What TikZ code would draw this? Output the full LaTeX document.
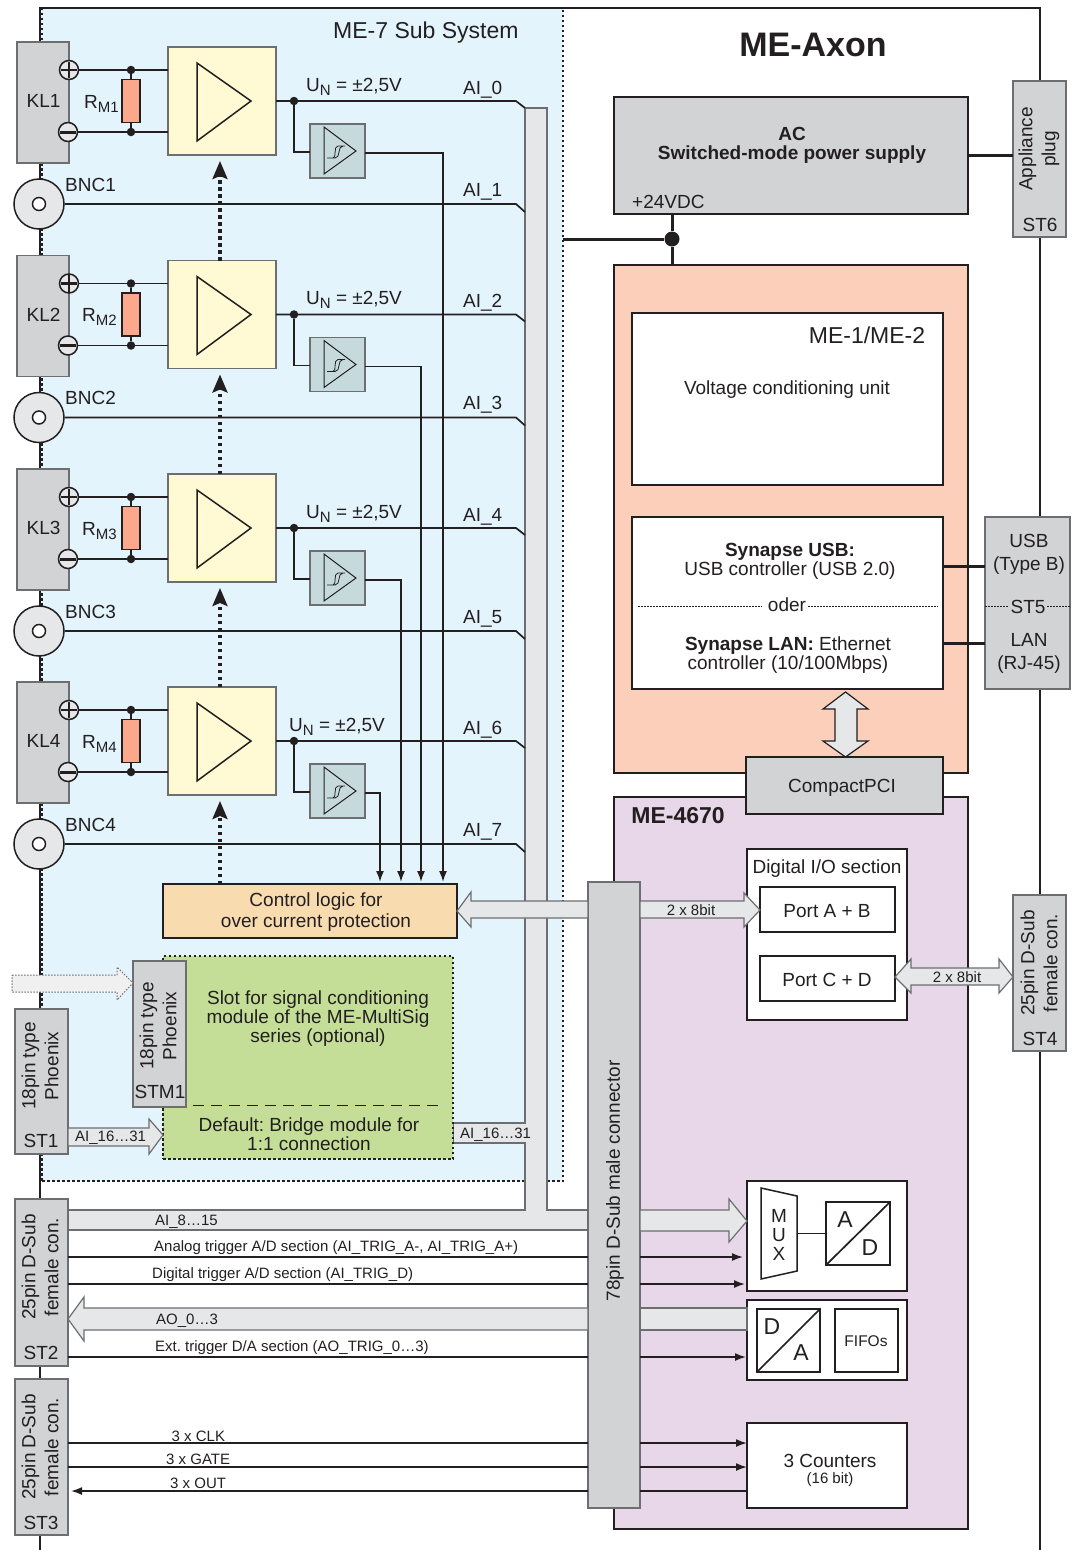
\documentclass[tikz,border=0pt]{standalone}
\usepackage{fontspec}
\setmainfont{Liberation Sans}
\usetikzlibrary{arrows.meta}
\definecolor{ink}{HTML}{231F20}
\definecolor{edge}{HTML}{6D6E71}
\definecolor{subsys}{HTML}{E4F4FD}
\definecolor{ampfill}{HTML}{FFFAD4}
\definecolor{cmpfill}{HTML}{C6DADD}
\definecolor{resfill}{HTML}{FBA88C}
\definecolor{portgray}{HTML}{D1D3D4}
\definecolor{busgray}{HTML}{E6E7E8}
\definecolor{logicfill}{HTML}{F8DCB0}
\definecolor{slotfill}{HTML}{C4DE98}
\definecolor{cardorange}{HTML}{FCCFBB}
\definecolor{cardpurple}{HTML}{E8D6E9}
\newcommand{\lowtxt}[1]{\raisebox{-4pt}{\fontsize{15}{15}\selectfont #1}}
\tikzset{
  size/.style 2 args={minimum width=#1, minimum height=#2, anchor=north west, inner sep=0pt, outer sep=0pt},
  txt/.style={font=\frenchspacing\fontsize{19}{19}\selectfont, text=ink, inner sep=0pt, align=center},
  turned/.style={txt, rotate=90, font=\fontsize{19}{23}\selectfont},
  big/.style={font=\fontsize{23}{23}\selectfont, text=ink, inner sep=0pt},
  tiny/.style={font=\frenchspacing\fontsize{15}{15}\selectfont, text=ink, inner sep=0pt, anchor=base west},
  lbl/.style={txt, anchor=base west},
  wire/.style={draw=ink, line width=1.7pt},
  power/.style={draw=ink, line width=3pt},
  sig/.style={wire, -{Latex[length=11pt,width=8pt]}},
  port/.style={draw=edge, line width=1.2pt, fill=portgray, txt},
  plain/.style={draw=ink, line width=1.2pt, fill=white, txt},
  strong/.style={draw=ink, line width=2pt, fill=white, txt},
  band/.style={draw=edge, line width=1.2pt, fill=busgray},
  border/.style={draw=ink, line width=1.2pt, dash pattern=on 2.5pt off 2.5pt},
  junction/.style={circle, fill=ink, minimum size=8.5pt, inner sep=0pt},
  terminal/.style={circle, draw=ink, line width=1.5pt, fill=busgray, minimum size=19pt, inner sep=0pt},
  ctrl/.style={draw=ink, line width=3.2pt, dash pattern=on 3.5pt off 3.5pt, shorten >=6pt, -{Stealth[length=18pt,width=15pt,inset=3pt]}}
}
\begin{document}
\begin{tikzpicture}[x=1pt, y=-1pt]
  \useasboundingbox (0,0) rectangle (1077,1550);
  \fill[subsys] (40,8) rectangle (563,1181);
  \draw[wire] (40,1550) -- (40,8) -- (1040,8) -- (1040,1550);
  \draw[border] (42,1181) -- (563,1181) -- (563,8) -- (42,8) -- cycle;
  \node[big, anchor=base west] (subsysname) at (333,38) {ME-7 Sub System};
  \node[font=\bfseries\fontsize{34}{34}\selectfont, text=ink, inner sep=0pt] (title) at (813,45) {ME-Axon};

  \node[draw=ink, line width=1.5pt, fill=cardpurple, size={354}{732}] (me4card) at (614,797) {};
  \node[port, size={52}{626}] (pins) at (588,882) {};
  \node[txt, rotate=90] (pinsname) at (615,1181) {78pin D-Sub male connector};

  \node[draw=ink, line width=2pt, fill=logicfill, size={294}{54}] (logic) at (163,884) {};
  \node[txt] (logicname) at (316,912) {Control logic for\\[2pt]over current protection};

  \draw[band] (525,108) -- (547,108) -- (547,1210) -- (pins.west |- 0,1210) -- (pins.west |- 0,1230)
    -- (68,1230) -- (68,1210) -- (525,1210) -- (525,1143) -- (453,1143) -- (453,1123) -- (525,1123) -- cycle;
  \draw[band] (pins.west |- 0,901) -- (471,901) -- (471,892) -- (logic.east) -- (471,927) -- (471,918) -- (pins.west |- 0,918) -- cycle;
  \node[tiny] (ailow) at (155,1225) {AI\_8…15};
  \node[tiny] (aibridge) at (460,1138) {AI\_16…31};

  \foreach \n/\dy/\ux/\rx/\out/\aia/\aib in {1/0/306/84/443/0/1, 2/213.5/306/82/421/2/3, 3/427/306/82/401/4/5, 4/640/289/82/380/6/7} {
    \begin{scope}[yshift=-\dy pt]
      \coordinate (ai\aia) at (525,108);
      \coordinate (ai\aib) at (525,212);
      \node[draw=edge, line width=1.2pt, fill=ampfill, size={108}{108}] (amp\n) at (168,47) {};
      \draw[draw=ink, line width=1.5pt] (197,63) -- (251,101) -- (197,141) -- cycle;
      \node[draw=edge, line width=1.2pt, fill=cmpfill, size={55}{54}] (cmp\n) at (310,124) {};
      \draw[draw=ink, line width=1pt] (324,127) -- (356,151) -- (324,174) -- cycle;
      \draw[draw=ink, line width=0.8pt] (327,158) -- (333,158) .. controls (337,158) and (333,146) .. (338,146) -- (345,146)
        (330,158) -- (335,158) .. controls (341,158) and (337,146) .. (343,146);
      \node[circle, draw=ink, line width=1.5pt, fill=busgray, minimum size=50pt, inner sep=0pt] (bnc\n) at (39,204) {};
      \node[circle, draw=ink, line width=1.5pt, fill=white, minimum size=13pt, inner sep=0pt] (bnchole\n) at (39,204) {};
      \node[lbl] (bncname\n) at (65,191) {BNC\n};
      \draw[wire] (amp\n.east) -- (516,101) -- (ai\aia);
      \draw[wire] (bnc\n.east) -- (516,204) -- (ai\aib);
      \node[junction] (split\n) at (294,101) {};
      \draw[wire] (split\n) |- (cmp\n.west |- 0,152);
      \draw[sig, shorten >=2pt] (cmp\n.east |- 0,153) -| (\out,0 |- logic.north);
      \node[port, size={52}{121}] (kl\n) at (17,42) {};
      \node[txt] (klname\n) at (43.5,101) {KL\n};
      \node[terminal] (plus\n) at (69,70) {};
      \node[terminal] (minus\n) at (68,132) {};
      \draw[draw=ink, line width=2.6pt, shorten >=2pt, shorten <=2pt] (plus\n.west) -- (plus\n.east);
      \draw[draw=ink, line width=2.6pt, shorten >=2pt, shorten <=2pt] (plus\n.north) -- (plus\n.south);
      \draw[draw=ink, line width=3pt, shorten >=2pt, shorten <=2pt] (minus\n.west) -- (minus\n.east);
      \node[junction] (top\n) at (131,70) {};
      \node[junction] (bot\n) at (131,132) {};
      \draw[wire] (plus\n.east) -- (top\n) -- (amp\n.west |- top\n);
      \draw[wire] (minus\n.east) -- (bot\n) -- (amp\n.west |- bot\n);
      \node[draw=ink, line width=1.5pt, fill=resfill, minimum width=18pt, minimum height=43pt, inner sep=0pt] (res\n) at (131,101) {};
      \draw[wire] (top\n) -- (res\n) (res\n) -- (bot\n);
      \node[lbl] (resname\n) at (\rx,108) {R\lowtxt{M\n}};
      \node[lbl] (un\n) at (\ux,91) {U\lowtxt{N} = ±2,5V};
      \node[lbl] (ainame\aia) at (463,94) {AI\_\aia};
      \node[lbl] (ainame\aib) at (463,196) {AI\_\aib};
    \end{scope}
  }
  \foreach \dn/\up in {2/1, 3/2, 4/3}
    \draw[ctrl] (220,0 |- amp\dn.north) -- (220,0 |- amp\up.south);
  \draw[ctrl] (220,0 |- logic.north) -- (220,0 |- amp4.south);

  \node[draw=ink, line width=1.2pt, dash pattern=on 2.5pt off 2.5pt, fill=slotfill, size={290}{203}] (slot) at (163,956) {};
  \node[txt] (slottext) at (318,1019) {Slot for signal conditioning\\module of the ME-MultiSig\\series (optional)};
  \node[txt] (slotdefault) at (309,1134) {Default: Bridge module for\\1:1 connection};
  \draw[draw=ink, line width=1pt, dash pattern=on 11pt off 7pt] (193,1105) -- (440,1105);
  \node[port, size={53}{146}] (stm) at (133,961) {};
  \node[turned] (stmtype) at (158,1026) {18pin type\\Phoenix};
  \node[txt] (stmname) at (160,1092) {STM1};
  \draw[draw=edge, line width=1pt, fill=black!6, dash pattern=on 1.5pt off 1.5pt]
    (12,975) -- (117,975) -- (117,967) -- (stm.west |- 0,983) -- (117,1000) -- (117,992) -- (12,992) -- cycle;

  \node[port, size={53}{145}] (st1) at (15,1009) {};
  \node[turned] (st1type) at (40,1066) {18pin type\\Phoenix};
  \node[txt] (st1name) at (41,1141) {ST1};
  \draw[band] (st1.east |- 0,1128) -- (149,1128) -- (149,1119) -- (slot.west |- 0,1135) -- (149,1154) -- (149,1146) -- (st1.east |- 0,1146) -- cycle;
  \node[tiny] (aimid) at (75,1141) {AI\_16…31};

  \node[port, size={53}{167}] (st2) at (15,1199) {};
  \node[turned] (st2type) at (40,1267) {25pin D-Sub\\female con.};
  \node[txt] (st2name) at (41,1353) {ST2};
  \node[port, size={53}{156}] (st3) at (15,1379) {};
  \node[turned] (st3type) at (40,1447) {25pin D-Sub\\female con.};
  \node[txt] (st3name) at (41,1523) {ST3};
  \node[port, size={53}{156}] (st4) at (1013,895) {};
  \node[turned] (st4type) at (1039,963) {25pin D-Sub\\female con.};
  \node[txt] (st4name) at (1040,1039) {ST4};
  \node[port, size={53}{156}] (st6) at (1013,81) {};
  \node[turned] (st6type) at (1039,149) {Appliance\\plug};
  \node[txt] (st6name) at (1040,225) {ST6};

  \node[draw=ink, line width=1.5pt, fill=portgray, size={354}{117}] (ac) at (614,97) {};
  \node[txt, font=\bfseries\fontsize{19}{19}\selectfont] (acname) at (792,145) {AC\\Switched-mode power supply};
  \node[lbl] (volts) at (632,208) {+24VDC};
  \draw[power] (ac.east |- 0,155) -- (st6.west |- 0,155);

  \node[draw=ink, line width=1.5pt, fill=cardorange, size={354}{508}] (me1card) at (614,265) {};
  \coordinate (subsysedge) at (563,239);
  \node[circle, fill=ink, minimum size=15pt, inner sep=0pt] (feed) at (672,239) {};
  \draw[power] (subsysedge) -- (feed);
  \draw[power] (ac.south -| feed) -- (feed) -- (me1card.north -| feed);
  \node[strong, size={311}{172}] (cond) at (632,313) {};
  \node[big] (condname) at (867,335) {ME-1/ME-2};
  \node[txt] (condtext) at (787,390) {Voltage conditioning unit};
  \node[strong, size={311}{172}] (synapse) at (632,517) {};
  \node[txt] (usbtext) at (790,561) {\textbf{Synapse USB:}\\USB controller (USB 2.0)};
  \node[txt] (lantext) at (788,655) {\textbf{Synapse LAN:} Ethernet\\controller (10/100Mbps)};
  \node[txt] (oder) at (787,605) {oder};
  \draw[draw=ink, line width=0.8pt, dash pattern=on 1.5pt off 1.5pt] (638,606) -- (762,606) (808,606) -- (938,606);

  \node[port, size={85}{172}] (st5) at (985,517) {};
  \node[txt] (usbname) at (1029,554) {USB\\[4pt](Type B)};
  \node[txt] (st5name) at (1028,607) {ST5};
  \node[txt] (lanname) at (1029,653) {LAN\\[4pt](RJ-45)};
  \draw[draw=ink, line width=0.8pt, dash pattern=on 1.5pt off 1.5pt] (st5.west |- 0,606) -- (1008,606) (1047,606) -- (st5.east |- 0,606);
  \draw[power] (synapse.east |- 0,566) -- (st5.west |- 0,566);
  \draw[power] (synapse.east |- 0,643) -- (st5.west |- 0,643);

  \node[big, font=\bfseries\fontsize{23}{23}\selectfont] (me4name) at (678,816) {ME-4670};
  \node[port, draw=ink, size={197}{57}] (cpci) at (746,757) {};
  \node[txt] (cpciname) at (842,788) {CompactPCI};
  \draw[band, draw=ink] (845.5,692) -- (868,709) -- (857,709) -- (857,741) -- (868,741) -- (845.5,757)
    -- (823,741) -- (835,741) -- (835,709) -- (823,709) -- cycle;

  \node[plain, size={160}{171}] (dio) at (747,849) {};
  \node[txt] (dioname) at (827,869) {Digital I/O section};
  \node[strong, size={135}{45}] (porta) at (760,887) {};
  \node[txt] (portaname) at (827,911) {Port A + B};
  \node[strong, size={135}{45}] (portc) at (760,956) {};
  \node[txt] (portcname) at (827,980) {Port C + D};
  \draw[band] (pins.east |- 0,901) -- (744,901) -- (744,893) -- (porta.west |- 0,910) -- (744,927) -- (744,918) -- (pins.east |- 0,918) -- cycle;
  \node[tiny, anchor=base] (diowidth) at (691,915) {2 x 8bit};
  \draw[band] (portc.east |- 0,977) -- (911,959) -- (911,968) -- (999,968) -- (999,959) -- (st4.west |- 0,977)
    -- (999,993) -- (999,985) -- (911,985) -- (911,993) -- cycle;
  \node[tiny, anchor=base] (extwidth) at (957,982) {2 x 8bit};

  \node[plain, size={160}{110}] (adc) at (747,1181) {};
  \draw[draw=ink, line width=1.5pt, fill=white] (761,1188) -- (797,1196) -- (797,1271) -- (761,1279) -- cycle;
  \node[txt] (mux) at (779,1235) {M\\U\\X};
  \node[draw=ink, line width=1.5pt, fill=white, size={64}{63}] (ad) at (826,1202) {};
  \draw[wire] (ad.south west) -- (ad.north east);
  \draw[wire] (797,0 |- ad.west) -- (ad.west);
  \node[big] (adin) at (845,1220) {A};
  \node[big] (adout) at (870,1248) {D};
  \draw[band] (pins.east |- 0,1210) -- (729,1210) -- (729,1199) -- (adc.west |- 0,1221) -- (729,1242) -- (729,1231) -- (pins.east |- 0,1231) -- cycle;
  \draw[sig] (pins.east |- 0,1257) -- (743,1257);
  \draw[sig] (pins.east |- 0,1284) -- (745,1284);
  \draw[wire] (st2.east |- 0,1257) -- (pins.west |- 0,1257);
  \draw[wire] (st2.east |- 0,1284) -- (pins.west |- 0,1284);
  \node[tiny] (atrig) at (154,1251) {Analog trigger A/D section (AI\_TRIG\_A-, AI\_TRIG\_A+)};
  \node[tiny] (dtrig) at (152,1278) {Digital trigger A/D section (AI\_TRIG\_D)};

  \node[plain, size={160}{80}] (dac) at (747,1300) {};
  \node[draw=ink, line width=1.5pt, fill=white, size={63}{63}] (da) at (757,1309) {};
  \draw[wire] (da.south west) -- (da.north east);
  \node[big] (dain) at (772,1327) {D};
  \node[big] (daout) at (801,1353) {A};
  \node[draw=ink, line width=1.5pt, fill=white, size={63}{63}] (fifo) at (835,1309) {};
  \node[txt, font=\fontsize{15.5}{15.5}\selectfont] (fifoname) at (866,1341) {FIFOs};
  \draw[band] (dac.west |- 0,1308) rectangle (pins.east |- 0,1330);
  \draw[band] (pins.west |- 0,1308) -- (84,1308) -- (84,1297) -- (st2.east |- 0,1319) -- (84,1341) -- (84,1330) -- (pins.west |- 0,1330) -- cycle;
  \node[tiny] (aoname) at (156,1324) {AO\_0…3};
  \draw[wire] (st2.east |- 0,1357) -- (pins.west |- 0,1357);
  \draw[sig] (pins.east |- 0,1357) -- (746,1357);
  \node[tiny] (etrig) at (155,1351) {Ext. trigger D/A section (AO\_TRIG\_0…3)};

  \node[draw=ink, line width=1.5pt, fill=white, size={160}{85}] (cnt) at (747,1423) {};
  \node[txt] (cntname) at (830,1461) {3 Counters};
  \node[txt, font=\fontsize{15}{15}\selectfont] (cntbits) at (830,1480) {(16 bit)};
  \draw[wire] (st3.east |- 0,1443) -- (pins.west |- 0,1443);
  \draw[wire] (st3.east |- 0,1467) -- (pins.west |- 0,1467);
  \draw[sig] (pins.east |- 0,1443) -- (cnt.west |- 0,1443);
  \draw[sig] (pins.east |- 0,1467) -- (cnt.west |- 0,1467);
  \draw[wire] (cnt.west |- 0,1491) -- (pins.east |- 0,1491);
  \draw[sig, shorten >=3pt] (pins.west |- 0,1491) -- (st3.east |- 0,1491);
  \node[tiny] (clk) at (171.5,1441) {3 x CLK};
  \node[tiny] (gate) at (166,1464) {3 x GATE};
  \node[tiny] (outs) at (170,1488) {3 x OUT};
\end{tikzpicture}
\end{document}
